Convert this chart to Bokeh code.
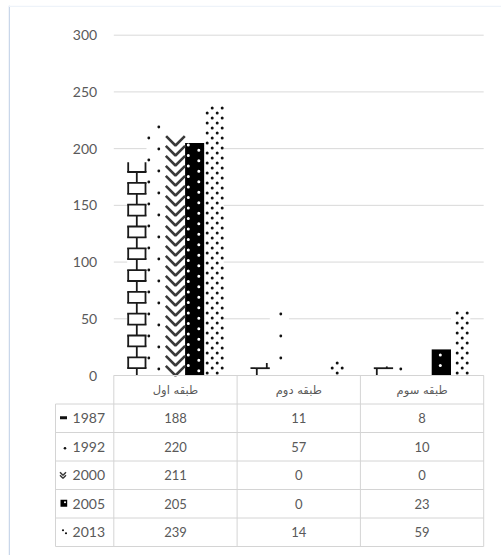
import math
from bokeh.plotting import figure
from bokeh.models import Range1d
from bokeh.core.properties import value
from bokeh.embed import file_html
from bokeh.resources import INLINE

# ---------------- data ----------------
categories = ["طبقه اول", "طبقه دوم", "طبقه سوم"]
years = ["1987", "1992", "2000", "2005", "2013"]
v1987 = [188, 11, 8]
v1992 = [220, 57, 10]
v2000 = [211, 0, 0]
v2005 = [205, 0, 23]
v2013 = [239, 14, 59]
y_ticks = [0, 50, 100, 150, 200, 250, 300]
series = [v1987, v1992, v2000, v2005, v2013]

# ---------------- layout constants (pixels) ----------------
W, H = 501, 555
COL0, COLW, LEFTW = 113.3, 123.3, 58.3
ZERO_PX = 375.0
PX_PER_UNIT = (375.0 - 34.7) / 300.0
ROW_PX = 28.5
FL, FR, FT, FB = 8, 501, 5, 555
BWPX = 19.3
INK = "#111111"
TXT = "#595959"
FONT = value("Lato")


def X(px):
    return (px - COL0) / COLW


def Y(py):
    return (ZERO_PX - py) / PX_PER_UNIT


p = figure(width=W, height=H, output_backend="svg", toolbar_location=None,
           x_range=Range1d(X(FL), X(FR)), y_range=Range1d(Y(FB), Y(FT)),
           min_border_left=FL, min_border_right=W - FR,
           min_border_top=FT, min_border_bottom=H - FB)
p.xaxis.visible = False
p.yaxis.visible = False
p.grid.visible = False
p.outline_line_color = None
p.background_fill_color = "white"
p.border_fill_color = "white"

ncat = len(categories)
nser = len(years)

# outer chart border (left and top edges)
p.segment(x0=[X(FL + 0.75)], x1=[X(FL + 0.75)], y0=[Y(FB)], y1=[Y(FT)],
          line_color="#c9d7ea", line_width=1.5)
p.segment(x0=[X(FL)], x1=[X(FR)], y0=[Y(FT + 0.75)], y1=[Y(FT + 0.75)],
          line_color="#eef3f9", line_width=1.5)

# gridlines and y tick labels
p.segment(x0=[0] * len(y_ticks), x1=[ncat] * len(y_ticks), y0=y_ticks, y1=y_ticks,
          line_color="#d9d9d9", line_width=1)
p.text(x=[X(96.7)] * len(y_ticks), y=y_ticks, text=[str(t) for t in y_ticks],
       text_align="right", text_baseline="middle", text_font=FONT,
       text_font_size="14px", text_color=TXT)


# ---------------- pattern helpers (pixel space) ----------------
def bar_rect(i, c, v):
    cx = COL0 + COLW * (c + 0.5) + (i - (nser - 1) / 2) * BWPX
    return cx - BWPX / 2, cx + BWPX / 2, ZERO_PX - v * PX_PER_UNIT, ZERO_PX


def lattice(rect, tile, pts, margin):
    L, R, T, B = rect
    out = []
    for (x0, y0) in pts:
        for a in range(math.floor((L - x0) / tile) - 1, math.ceil((R - x0) / tile) + 2):
            for b in range(math.floor((T - y0) / tile) - 1, math.ceil((B - y0) / tile) + 2):
                x, y = x0 + a * tile, y0 + b * tile
                if L + margin <= x <= R - margin and T + margin <= y <= B - margin:
                    out.append((x, y))
    return out


def brick(rect):
    L, R, T, B = rect
    segs = []
    step, ph = 10.9, 367.7
    for k in range(math.floor((T - ph) / step), math.ceil((B - ph) / step) + 1):
        y = ph + k * step
        if T - 0.5 <= y <= B:
            segs.append(((L, y), (R, y)))
        ya, yb = max(y, T), min(y + step, B)
        if yb - ya < 1:
            continue
        jx0 = 16.3 + (10 if k % 2 else 0)
        for m in range(math.floor((L - jx0) / 20) - 1, math.ceil((R - jx0) / 20) + 2):
            jx = jx0 + 20 * m
            if L - 1.2 <= jx <= R + 1.2:
                jx = min(max(jx, L + 1), R - 1)
                segs.append(((jx, ya), (jx, yb)))
    return segs


def chevrons(rect):
    L, R, T, B = rect
    lines = []
    for m in range(math.floor((L - 14.95) / 20) - 1, math.ceil((R - 14.95) / 20) + 2):
        ax = 14.95 + 20 * m
        if not (L <= ax <= R):
            continue
        for k in range(0, int((B - T) / 10) + 3):
            ya = B - k * 10
            if ya > B or ya < T:
                continue
            tl = min(10, ya - T, ax - L)
            tr = min(10, ya - T, R - ax)
            lines.append([(ax - tl, ya - tl), (ax, ya), (ax + tr, ya - tr)])
    return lines


def add_segments(segs, color, width):
    if segs:
        p.segment(x0=[X(a[0]) for a, b in segs], y0=[Y(a[1]) for a, b in segs],
                  x1=[X(b[0]) for a, b in segs], y1=[Y(b[1]) for a, b in segs],
                  line_color=color, line_width=width)


def add_dots(pts, color, size):
    if pts:
        p.scatter(x=[X(a) for a, b in pts], y=[Y(b) for a, b in pts], marker="circle",
                  size=size, fill_color=color, line_color=None)


# ---------------- bars ----------------
BW = BWPX / COLW
fills = ["white", "white", "white", "black", "white"]
for i, vals in enumerate(series):
    xs = [c + 0.5 + (i - (nser - 1) / 2) * BW for c in range(ncat)]
    p.vbar(x=xs, top=vals, bottom=0, width=BW, line_color=None, fill_color=fills[i])

for c in range(ncat):
    add_segments(brick(bar_rect(0, c, v1987[c])), "#1a1a1a", 1.8)
    add_dots(lattice(bar_rect(1, c, v1992[c]), 22, [(16.3, 5.5), (4.3, 16.5)], 1.0), INK, 2.8)
    ch = chevrons(bar_rect(2, c, v2000[c]))
    if ch:
        p.multi_line(xs=[[X(x) for x, y in ln] for ln in ch], ys=[[Y(y) for x, y in ln] for ln in ch],
                     line_color="#3a3a3a", line_width=2.6)
    r5 = bar_rect(3, c, v2005[c])
    add_dots(lattice(r5, 21, [(9.3, 2.75), (19.8, 8.0)], 1.3)
             + lattice(r5, 21, [(9.3, 13.25), (19.8, 18.5)], 1.3), "white", 3.0)
    add_dots(lattice(bar_rect(4, c, v2013[c]), 10, [(6.7, 2.5), (1.7, 7.5)], 1.2), INK, 3.0)

# ---------------- table ----------------
TC = "#d4d4d4"
nrows = nser + 1
row_y = [ZERO_PX + r * ROW_PX for r in range(nrows + 1)]
left_px = COL0 - LEFTW
for r in range(nrows + 1):
    x0 = X(left_px) if r >= 1 else 0
    p.segment(x0=[x0], x1=[ncat], y0=[Y(row_y[r])], y1=[Y(row_y[r])], line_color=TC, line_width=1)
p.segment(x0=[X(left_px)], x1=[X(left_px)], y0=[Y(row_y[1])], y1=[Y(row_y[-1])], line_color=TC, line_width=1)
for c in range(ncat + 1):
    p.segment(x0=[c], x1=[c], y0=[Y(row_y[0])], y1=[Y(row_y[-1])], line_color=TC, line_width=1)

row_c = [Y(ZERO_PX + ROW_PX * (i + 1.5)) for i in range(nser)]
p.text(x=[c + 0.5 for c in range(ncat)], y=[Y(ZERO_PX + ROW_PX * 0.5)] * ncat, text=categories,
       text_align="center", text_baseline="middle", text_font=value("DejaVu Sans"),
       text_font_size="11.5px", text_color=TXT)
for i, vals in enumerate(series):
    p.text(x=[c + 0.5 for c in range(ncat)], y=[row_c[i]] * ncat, text=[str(v) for v in vals],
           text_align="center", text_baseline="middle", text_font=FONT,
           text_font_size="13px", text_color=TXT)
p.text(x=[X(104.5)] * nser, y=row_c, text=years,
       text_align="right", text_baseline="middle", text_font=FONT,
       text_font_size="14px", text_color=TXT)

# legend keys (small pattern swatches)
kc = [ZERO_PX + ROW_PX * (i + 1.5) for i in range(nser)]
p.quad(left=[X(59.5)], right=[X(66.5)], top=[Y(kc[0] - 2)], bottom=[Y(kc[0] + 1)],
       fill_color=INK, line_color=None)
add_dots([(64.5, kc[1] + 1.5)], INK, 2.6)
p.multi_line(xs=[[X(59.5), X(62.5), X(65.5)], [X(59.5), X(62.5), X(65.5)]],
             ys=[[Y(kc[2] - 3), Y(kc[2]), Y(kc[2] - 3)], [Y(kc[2]), Y(kc[2] + 3), Y(kc[2])]],
             line_color="#3a3a3a", line_width=1.5)
p.quad(left=[X(60)], right=[X(66.7)], top=[Y(kc[3] - 4)], bottom=[Y(kc[3] + 3)],
       fill_color="black", line_color=None)
add_dots([(64.5, kc[3] - 1.5)], "white", 2.0)
add_dots([(62.5, kc[4] - 2), (65.5, kc[4] + 1)], INK, 2.2)

open("out.html", "w").write(file_html(p, INLINE))
